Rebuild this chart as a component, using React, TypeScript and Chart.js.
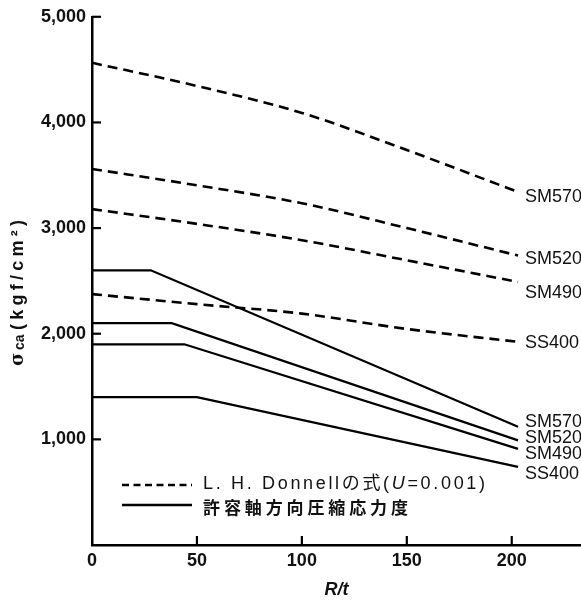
import React, { useEffect, useRef } from 'react';
import { Chart, registerables } from 'chart.js';

Chart.register(...registerables);

// ---- data ----
const gradeLabels = ['SM570', 'SM520', 'SM490', 'SS400'];

const donnellX = [0, 50, 100, 150, 203];
const donnellSM570 = [4565, 4345, 4090, 3739, 3342];
const donnellSM520 = [3560, 3405, 3235, 3000, 2740];
const donnellSM490 = [3180, 3040, 2885, 2695, 2490];
const donnellSS400 = [2375, 2280, 2190, 2045, 1923];

const allowSM570X = [0, 28, 203];
const allowSM570 = [2600, 2600, 1120];
const allowSM520X = [0, 38, 203];
const allowSM520 = [2100, 2100, 990];
const allowSM490X = [0, 44, 203];
const allowSM490 = [1900, 1900, 910];
const allowSS400X = [0, 50, 203];
const allowSS400 = [1400, 1400, 740];

const xTicks = [0, 50, 100, 150, 200];
const yTicks = [0, 1000, 2000, 3000, 4000, 5000];

const legendDonnell = ['L. H. Donnellの式(', 'U', '=0.001)'];
const legendAllow = '許容軸方向圧縮応力度';
const xTitle = 'R/t';

// ---- style ----
const FONT = '"Liberation Sans", "Noto Sans CJK JP", sans-serif';
const dashedShift = [5, 3, 11, 1];
const solidShift = [-4.5, -2, 5, 7];

const pts = (xs: number[], ys: number[]) => xs.map((x, i) => ({ x, y: ys[i] }));

function drawSpaced(
  ctx: CanvasRenderingContext2D,
  segs: { text: string; font: string }[],
  x: number,
  y: number,
  target: number
) {
  const chars: { c: string; font: string; w: number }[] = [];
  segs.forEach((s) => {
    ctx.font = s.font;
    for (const c of Array.from(s.text)) chars.push({ c, font: s.font, w: ctx.measureText(c).width });
  });
  const total = chars.reduce((a, b) => a + b.w, 0);
  const gap = chars.length > 1 ? (target - total) / (chars.length - 1) : 0;
  let cx = x;
  chars.forEach((ch) => {
    ctx.font = ch.font;
    ctx.fillText(ch.c, cx, y);
    cx += ch.w + gap;
  });
}

const decor = {
  id: 'decor',
  afterDatasetsDraw(chart: any) {
    const { ctx, chartArea, scales } = chart;
    const xs = scales.x;
    const ys = scales.y;
    ctx.save();
    ctx.strokeStyle = '#000';
    ctx.fillStyle = '#111';
    ctx.lineWidth = 2.2;
    ctx.setLineDash([]);
    // inward ticks
    yTicks.slice(1).forEach((v) => {
      const py = ys.getPixelForValue(v);
      ctx.beginPath();
      ctx.moveTo(chartArea.left, py);
      ctx.lineTo(chartArea.left + 9, py);
      ctx.stroke();
    });
    xTicks.slice(1).forEach((v) => {
      const px = xs.getPixelForValue(v);
      ctx.beginPath();
      ctx.moveTo(px, chartArea.bottom);
      ctx.lineTo(px, chartArea.bottom - 9);
      ctx.stroke();
    });

    // end labels
    ctx.font = '18px ' + FONT;
    ctx.textBaseline = 'middle';
    ctx.textAlign = 'left';
    chart.data.datasets.forEach((ds: any, i: number) => {
      const last = ds.data[ds.data.length - 1];
      const g = i % 4;
      const shift = i < 4 ? dashedShift[g] : solidShift[g];
      const px = xs.getPixelForValue(last.x) + 7;
      const py = ys.getPixelForValue(last.y) + shift;
      ctx.fillText(gradeLabels[g], px, py);
    });

    // legend
    const ly1 = 485;
    const ly2 = 505;
    ctx.lineWidth = 2.5;
    ctx.setLineDash([7, 4.5]);
    ctx.beginPath();
    ctx.moveTo(122, ly1);
    ctx.lineTo(192, ly1);
    ctx.stroke();
    ctx.setLineDash([]);
    ctx.beginPath();
    ctx.moveTo(122, ly2);
    ctx.lineTo(192, ly2);
    ctx.stroke();
    const f = '18px ' + FONT;
    const fi = 'italic 18px ' + FONT;
    drawSpaced(
      ctx,
      [
        { text: legendDonnell[0], font: f },
        { text: legendDonnell[1], font: fi },
        { text: legendDonnell[2], font: f },
      ],
      203,
      484,
      282
    );
    drawSpaced(ctx, [{ text: legendAllow, font: 'bold 17px ' + FONT }], 203, 509, 205);

    // y title (rotated)
    ctx.translate(18, 366);
    ctx.rotate(-Math.PI / 2);
    ctx.textBaseline = 'middle';
    ctx.font = 'bold 18px "DejaVu Serif", serif';
    ctx.fillText('σ', 0, 0);
    ctx.font = 'bold 14px ' + FONT;
    ctx.fillText('ca', 16, 2);
    drawSpaced(ctx, [{ text: '(kgf/cm²)', font: 'bold 18px ' + FONT }], 36, 0, 110);
    ctx.restore();
  },
};

export default function App() {
  const ref = useRef<HTMLCanvasElement | null>(null);
  useEffect(() => {
    if (!ref.current) return;
    const dashed = (label: string, xs: number[], ys: number[]) => ({
      label,
      data: pts(xs, ys),
      borderColor: '#000',
      borderWidth: 2.6,
      borderDash: [10, 6],
      pointRadius: 0,
      cubicInterpolationMode: 'monotone' as const,
      fill: false,
    });
    const solid = (label: string, xs: number[], ys: number[]) => ({
      label,
      data: pts(xs, ys),
      borderColor: '#000',
      borderWidth: 2.2,
      pointRadius: 0,
      tension: 0,
      fill: false,
    });
    const chart = new Chart(ref.current, {
      type: 'line',
      data: {
        datasets: [
          dashed('Donnell SM570', donnellX, donnellSM570),
          dashed('Donnell SM520', donnellX, donnellSM520),
          dashed('Donnell SM490', donnellX, donnellSM490),
          dashed('Donnell SS400', donnellX, donnellSS400),
          solid('許容 SM570', allowSM570X, allowSM570),
          solid('許容 SM520', allowSM520X, allowSM520),
          solid('許容 SM490', allowSM490X, allowSM490),
          solid('許容 SS400', allowSS400X, allowSS400),
        ],
      },
      options: {
        animation: false,
        responsive: false,
        layout: { padding: { top: 14, right: 0, bottom: 0, left: 0 } },
        plugins: { legend: { display: false }, tooltip: { enabled: false } },
        scales: {
          x: {
            type: 'linear',
            min: 0,
            max: 233,
            afterBuildTicks: (s: any) => {
              s.ticks = xTicks.map((v) => ({ value: v }));
            },
            afterFit: (s: any) => {
              s.height = 58;
            },
            grid: { display: false, drawTicks: false },
            border: { display: true, color: '#000', width: 2.5 },
            ticks: {
              padding: 5,
              color: '#111',
              font: { family: FONT, size: 18, weight: 'bold' },
            },
            title: {
              display: true,
              text: xTitle,
              color: '#111',
              font: { family: FONT, size: 18, style: 'italic', weight: 'bold' },
              padding: { top: 0, bottom: 2 },
            },
          },
          y: {
            type: 'linear',
            min: 0,
            max: 5000,
            afterBuildTicks: (s: any) => {
              s.ticks = yTicks.map((v) => ({ value: v }));
            },
            afterFit: (s: any) => {
              s.width = 92;
            },
            grid: { display: false, drawTicks: false },
            border: { display: true, color: '#000', width: 2.5 },
            ticks: {
              padding: 6,
              color: '#111',
              font: { family: FONT, size: 18, weight: 'bold' },
              callback: (v: any) => (v === 0 ? '' : Number(v).toLocaleString('en-US')),
            },
          },
        },
      },
      plugins: [decor],
    });
    return () => chart.destroy();
  }, []);
  return (
    <div style={{ position: 'absolute', left: 0, top: 0, width: 581, height: 603, background: '#fff' }}>
      <canvas ref={ref} width={581} height={603} />
    </div>
  );
}
